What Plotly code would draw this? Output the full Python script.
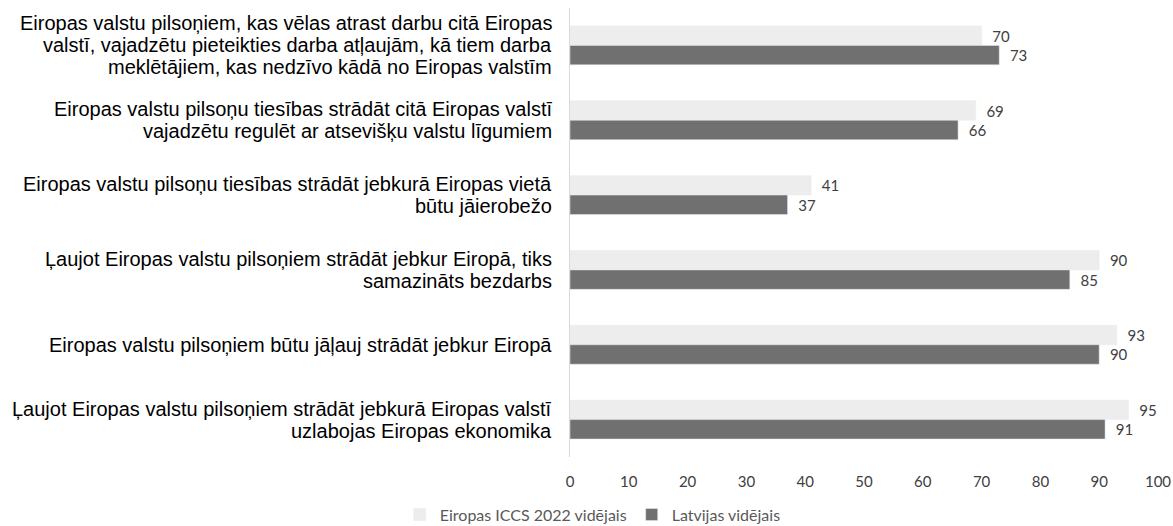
import plotly.graph_objects as go

categories = [
    "Eiropas valstu pilsoņiem, kas vēlas atrast darbu citā Eiropas<br>valstī, vajadzētu pieteikties darba atļaujām, kā tiem darba<br>meklētājiem, kas nedzīvo kādā no Eiropas valstīm",
    "Eiropas valstu pilsoņu tiesības strādāt citā Eiropas valstī<br>vajadzētu regulēt ar atsevišķu valstu līgumiem",
    "Eiropas valstu pilsoņu tiesības strādāt jebkurā Eiropas vietā<br>būtu jāierobežo",
    "Ļaujot Eiropas valstu pilsoņiem strādāt jebkur Eiropā, tiks<br>samazināts bezdarbs",
    "Eiropas valstu pilsoņiem būtu jāļauj strādāt jebkur Eiropā",
    "Ļaujot Eiropas valstu pilsoņiem strādāt jebkurā Eiropas valstī<br>uzlabojas Eiropas ekonomika",
]
series_names = ["Eiropas ICCS 2022 vidējais", "Latvijas vidējais"]
europe_values = [70, 69, 41, 90, 93, 95]
latvia_values = [73, 66, 37, 85, 90, 91]
x_ticks = [0, 10, 20, 30, 40, 50, 60, 70, 80, 90, 100]

num_font = dict(family="Lato, Open Sans, sans-serif", size=15, color="#404040")
label_font = dict(family="Liberation Sans, Arial, sans-serif", size=20, color="#000000")

fig = go.Figure()
fig.add_trace(go.Bar(
    y=categories, x=europe_values, orientation="h", name=series_names[0],
    marker=dict(color="#EDEDED"), text=europe_values,
    texttemplate="\u00a0\u00a0%{x}", textposition="outside",
    textfont=num_font, cliponaxis=False,
))
fig.add_trace(go.Bar(
    y=categories, x=latvia_values, orientation="h", name=series_names[1],
    marker=dict(color="#707070"), text=latvia_values,
    texttemplate="\u00a0\u00a0%{x}", textposition="outside",
    textfont=num_font, cliponaxis=False,
))

# category labels as right-aligned multi-line text with tight line spacing
line_gap = 22
for cat in categories:
    lines = cat.split("<br>")
    n = len(lines)
    for j, line in enumerate(lines):
        fig.add_annotation(
            x=0, xref="paper", y=cat, yref="y", text=line, showarrow=False,
            xanchor="right", yanchor="middle", xshift=-16,
            yshift=((n - 1) / 2 - j) * line_gap, font=label_font,
        )

fig.update_layout(
    width=1173, height=526,
    margin=dict(l=570, r=15, t=8, b=69, autoexpand=False),
    barmode="group", bargap=0.48, bargroupgap=0,
    plot_bgcolor="white", paper_bgcolor="white",
    showlegend=True,
    legend=dict(orientation="h", x=-0.2895, xanchor="left",
                yref="container", y=0.054, yanchor="top",
                font=dict(family="Lato, Open Sans, sans-serif", size=16, color="#595959"),
                itemwidth=30, traceorder="normal"),
    xaxis=dict(range=[0, 100], tickvals=x_ticks, showgrid=False, zeroline=False,
               showline=False, ticks="", tickfont=num_font, ticklabelstandoff=14),
    yaxis=dict(autorange="reversed", showgrid=False, zeroline=False, showline=True,
               linecolor="#D9D9D9", linewidth=1, ticks="", showticklabels=False),
)

fig.write_html(
    "out.html",
    config={"displayModeBar": False},
    post_script="document.body.style.margin='0';document.body.style.overflow='hidden';",
)
